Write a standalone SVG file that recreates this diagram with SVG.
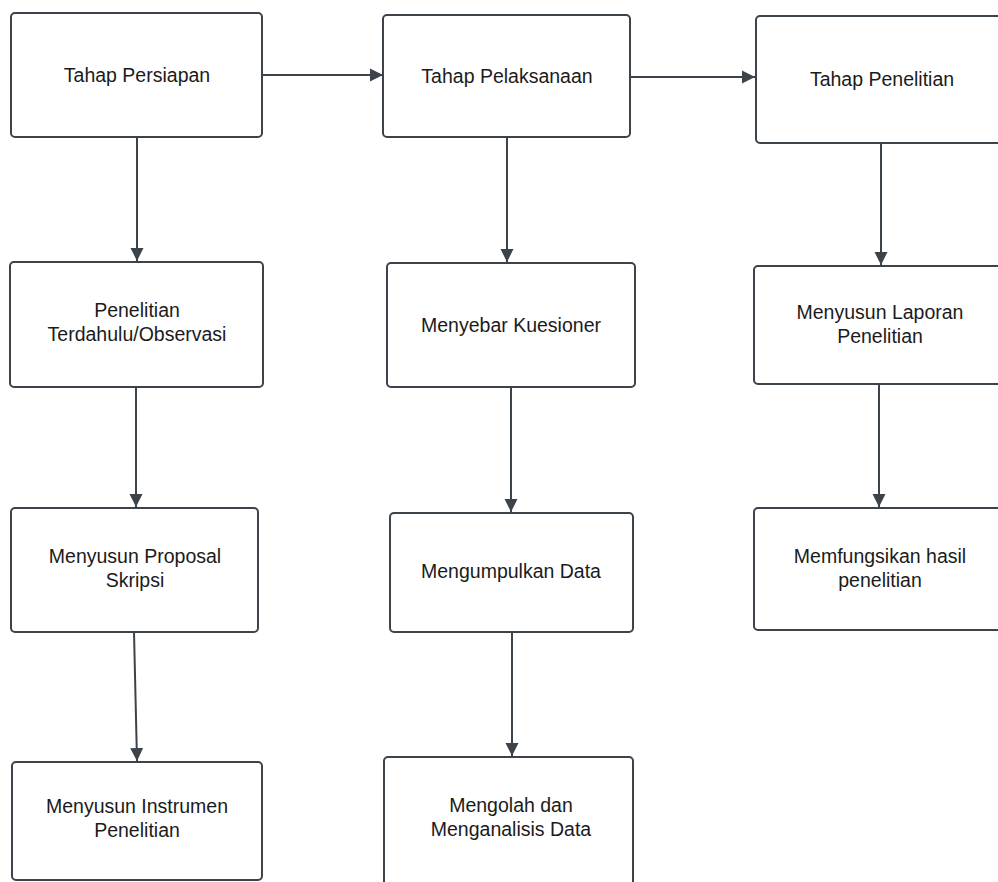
<svg xmlns="http://www.w3.org/2000/svg" width="998" height="882" viewBox="0 0 998 882">
<style>
.box{fill:#ffffff;stroke:#3d434b;stroke-width:2}
.t{font-family:"Liberation Sans",Arial,sans-serif;font-size:19.5px;fill:#1b1b1b;text-anchor:middle;dominant-baseline:central}
.c{stroke:#3d434b;stroke-width:2;fill:none;marker-end:url(#ah)}
</style>
<defs>
<marker id="ah" markerUnits="userSpaceOnUse" markerWidth="14" markerHeight="14" viewBox="0 0 14 14" refX="13" refY="7" orient="auto">
<path d="M0,0.5 L13,7 L0,13.5 Z" fill="#3d434b"/>
</marker>
</defs>
<rect width="998" height="882" fill="#ffffff"/>
<g id="connectors">
<line class="c" x1="262" y1="75" x2="383" y2="75"/>
<line class="c" x1="630" y1="77" x2="755" y2="77"/>
<line class="c" x1="137" y1="137" x2="137" y2="261"/>
<line class="c" x1="136" y1="387" x2="136" y2="507"/>
<line class="c" x1="134" y1="632" x2="137" y2="761"/>
<line class="c" x1="507" y1="137" x2="507" y2="262"/>
<line class="c" x1="511" y1="387" x2="511" y2="512"/>
<line class="c" x1="512" y1="632" x2="512" y2="756"/>
<line class="c" x1="881" y1="143" x2="881" y2="265"/>
<line class="c" x1="879" y1="384" x2="879" y2="507"/>
</g>
<g id="n1"><rect class="box" x="11" y="13" width="251" height="124" rx="4"/><text class="t" x="137" y="75">Tahap Persiapan</text></g>
<g id="n2"><rect class="box" x="383" y="15" width="247" height="122" rx="4"/><text class="t" x="507" y="76">Tahap Pelaksanaan</text></g>
<g id="n3"><rect class="box" x="756" y="16" width="252" height="127" rx="4"/><text class="t" x="882" y="79">Tahap Penelitian</text></g>
<g id="n4"><rect class="box" x="10" y="262" width="253" height="125" rx="4"/><text class="t" x="137" y="310">Penelitian</text><text class="t" x="137" y="334">Terdahulu/Observasi</text></g>
<g id="n5"><rect class="box" x="387" y="263" width="248" height="124" rx="4"/><text class="t" x="511" y="325">Menyebar Kuesioner</text></g>
<g id="n6"><rect class="box" x="754" y="266" width="254" height="118" rx="4"/><text class="t" x="880" y="312">Menyusun Laporan</text><text class="t" x="880" y="336">Penelitian</text></g>
<g id="n7"><rect class="box" x="11" y="508" width="247" height="124" rx="4"/><text class="t" x="135" y="556">Menyusun Proposal</text><text class="t" x="135" y="580">Skripsi</text></g>
<g id="n8"><rect class="box" x="390" y="513" width="243" height="119" rx="4"/><text class="t" x="511" y="571">Mengumpulkan Data</text></g>
<g id="n9"><rect class="box" x="754" y="508" width="254" height="122" rx="4"/><text class="t" x="880" y="556">Memfungsikan hasil</text><text class="t" x="880" y="580">penelitian</text></g>
<g id="n10"><rect class="box" x="12" y="762" width="250" height="118" rx="4"/><text class="t" x="137" y="806">Menyusun Instrumen</text><text class="t" x="137" y="830">Penelitian</text></g>
<g id="n11"><rect class="box" x="384" y="757" width="249" height="135" rx="4"/><text class="t" x="511" y="805">Mengolah dan</text><text class="t" x="511" y="829">Menganalisis Data</text></g>
</svg>
